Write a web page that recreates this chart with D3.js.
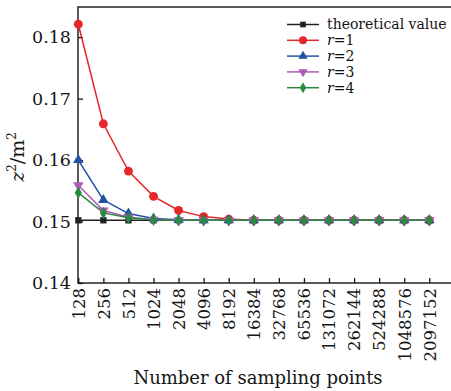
<!DOCTYPE html>
<html><head><meta charset="utf-8">
<script src="https://cdn.jsdelivr.net/npm/d3@7"></script>
<style>body{margin:0;background:#fff}svg{display:block}</style>
</head><body>
<svg id="c" width="451" height="391"></svg>
<script>
const categories = ["128","256","512","1024","2048","4096","8192","16384","32768","65536","131072","262144","524288","1048576","2097152"];
const theoretical = [0.1502,0.1502,0.1502,0.1502,0.1502,0.1502,0.1502,0.1502,0.1502,0.1502,0.1502,0.1502,0.1502,0.1502,0.1502];
const r1 = [0.1821,0.1659,0.1582,0.1541,0.1518,0.1508,0.1504,0.1502,0.1502,0.1502,0.1502,0.1502,0.1502,0.1502,0.1502];
const r2 = [0.1600,0.1535,0.1513,0.1505,0.1503,0.1502,0.1502,0.1502,0.1502,0.1502,0.1502,0.1502,0.1502,0.1502,0.1502];
const r3 = [0.1559,0.1518,0.1507,0.1503,0.1502,0.1502,0.1502,0.1502,0.1502,0.1502,0.1502,0.1502,0.1502,0.1502,0.1502];
const r4 = [0.1547,0.1514,0.1506,0.1503,0.1502,0.1502,0.1502,0.1502,0.1502,0.1502,0.1502,0.1502,0.1502,0.1502,0.1502];
const yTicks = [0.14,0.15,0.16,0.17,0.18];
const seriesNames = ["theoretical value","r=1","r=2","r=3","r=4"];

const series = [
  {name:"theoretical value", vals:theoretical, color:"#222222", sym:d3.symbolSquare, size:40, rot:0},
  {name:"r=1", vals:r1, color:"#e5262b", sym:d3.symbolCircle, size:62, rot:0},
  {name:"r=2", vals:r2, color:"#2252a3", sym:d3.symbolTriangle, size:48, rot:0},
  {name:"r=3", vals:r3, color:"#b059b5", sym:d3.symbolTriangle, size:48, rot:180},
  {name:"r=4", vals:r4, color:"#2a8a3f", sym:d3.symbolDiamond, size:44, rot:0}
];

const svg = d3.select("#c");
const L = 78, T = 7, R = 453, B = 283;
const x = d3.scalePoint().domain(categories).range([78.3, 429.3]);
const y = d3.scaleLinear().domain([0.14, 0.1849]).range([B, T]);
const font = "'DejaVu Serif', serif";
const ink = "#151515";

// frame
svg.append("rect").attr("x",L).attr("y",T).attr("width",R-L).attr("height",B-T)
  .attr("fill","none").attr("stroke",ink).attr("stroke-width",1.4);

// y axis
const ya = svg.append("g").attr("transform",`translate(${L},0)`)
  .call(d3.axisLeft(y).tickValues(yTicks).tickFormat(d3.format(".2f")).tickSizeInner(-5).tickSizeOuter(0).tickPadding(7));
ya.select(".domain").remove();
ya.selectAll("line").attr("stroke",ink).attr("stroke-width",1.3);
ya.selectAll("text").attr("font-family",font).attr("font-size",17.5).attr("fill",ink);

// x axis
const xa = svg.append("g").attr("transform",`translate(0,${B})`)
  .call(d3.axisBottom(x).tickSizeInner(-5).tickSizeOuter(0).tickPadding(4));
xa.select(".domain").remove();
xa.selectAll("line").attr("stroke",ink).attr("stroke-width",1.3);
xa.selectAll("text").attr("font-family",font).attr("font-size",16.5).attr("fill",ink)
  .attr("transform","rotate(-90)").attr("text-anchor","end").attr("dy","0.35em").attr("x",-5).attr("y",0);

// axis titles
svg.append("text").attr("x",258).attr("y",384).attr("text-anchor","middle")
  .attr("font-family",font).attr("font-size",18).attr("fill",ink).text("Number of sampling points");
const yl = svg.append("text").attr("transform","translate(24,157) rotate(-90)").attr("text-anchor","middle")
  .attr("font-family",font).attr("font-size",19).attr("fill",ink);
yl.append("tspan").attr("font-style","italic").text("z");
yl.append("tspan").attr("font-size",12).attr("dy",-8).text("2");
yl.append("tspan").attr("dy",8).text("/m");
yl.append("tspan").attr("font-size",12).attr("dy",-8).text("2");

// lines & markers
const line = d3.line().x((d,i)=>x(categories[i])).y(d=>y(d));
series.forEach(s=>{
  svg.append("path").datum(s.vals).attr("d",line).attr("fill","none")
    .attr("stroke",s.color).attr("stroke-width",1.5);
});
series.forEach(s=>{
  svg.append("g").selectAll("path").data(s.vals).join("path")
    .attr("d",d3.symbol().type(s.sym).size(s.size))
    .attr("transform",(d,i)=>`translate(${x(categories[i])},${y(d)}) rotate(${s.rot})`)
    .attr("fill",s.color);
});

// legend
const lg = svg.append("g");
series.forEach((s,i)=>{
  const yy = 24.5 + i*15.8;
  lg.append("line").attr("x1",287).attr("x2",319).attr("y1",yy).attr("y2",yy)
    .attr("stroke",s.color).attr("stroke-width",1.5);
  lg.append("path").attr("d",d3.symbol().type(s.sym).size(s.size*0.8))
    .attr("transform",`translate(303,${yy}) rotate(${s.rot})`).attr("fill",s.color);
  const t = lg.append("text").attr("x",327).attr("y",yy).attr("dy","0.35em")
    .attr("font-family",font).attr("font-size",14).attr("fill",ink);
  if (i===0) t.text(seriesNames[i]);
  else { t.append("tspan").attr("font-style","italic").text("r"); t.append("tspan").text(seriesNames[i].slice(1)); }
});
</script>
</body></html>
